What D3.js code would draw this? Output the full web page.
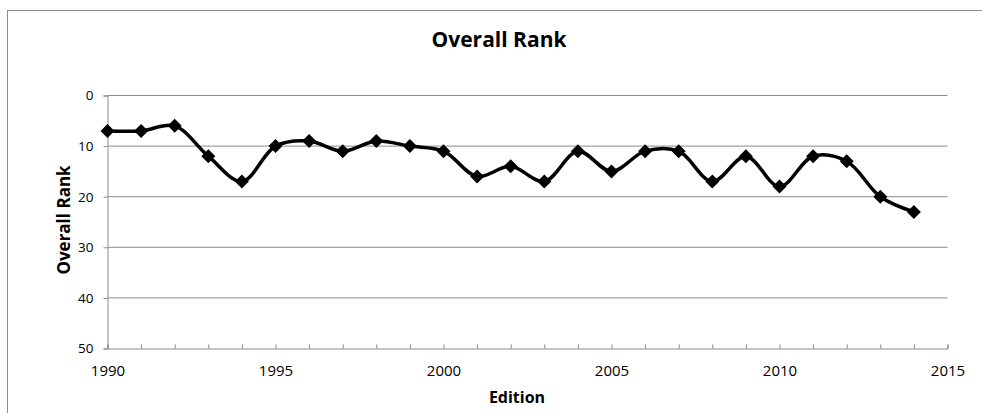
<!DOCTYPE html>
<html>
<head>
<meta charset="utf-8">
<script src="https://cdn.jsdelivr.net/npm/d3@7"></script>
<style>
  html, body { margin: 0; padding: 0; background: #fff; }
  svg { display: block; font-family: "Open Sans", "DejaVu Sans", sans-serif; }
</style>
</head>
<body>
<svg id="chart" width="982" height="413"></svg>
<script>
// Edition years and the overall rank reached in each
const years = [1990, 1991, 1992, 1993, 1994, 1995, 1996, 1997, 1998, 1999, 2000, 2001, 2002,
               2003, 2004, 2005, 2006, 2007, 2008, 2009, 2010, 2011, 2012, 2013, 2014];
const ranks = [7, 7, 6, 12, 17, 10, 9, 11, 9, 10, 11, 16, 14,
               17, 11, 15, 11, 11, 17, 12, 18, 12, 13, 20, 23];
const rankTicks = [0, 10, 20, 30, 40, 50];
const yearTicks = [1990, 1995, 2000, 2005, 2010, 2015];
const yearMinorTicks = d3.range(1990, 2016);

const svg = d3.select("#chart");
const gridColor = "#8c8c8c";

// outer chart frame
svg.append("rect")
  .attr("x", 7.5).attr("y", 10.5)
  .attr("width", 990).attr("height", 420)
  .attr("fill", "#fff").attr("stroke", "#8c8c8c").attr("stroke-width", 1);

const x = d3.scaleLinear().domain([1990, 2015]).range([107.5, 947.5]);
const y = d3.scaleLinear().domain([0, 50]).range([95.5, 348.5]);

// horizontal gridlines
svg.append("g")
  .selectAll("line")
  .data(rankTicks.filter(d => d < 50))
  .join("line")
  .attr("x1", x(1990)).attr("x2", x(2015))
  .attr("y1", d => y(d)).attr("y2", d => y(d))
  .attr("stroke", gridColor).attr("stroke-width", 1);

// y axis (rank, 0 at top)
const yAxis = svg.append("g")
  .attr("transform", `translate(${x(1990)},0)`)
  .call(d3.axisLeft(y).tickValues(rankTicks).tickSize(4).tickPadding(10));
yAxis.select(".domain").attr("stroke", gridColor);
yAxis.selectAll(".tick line").attr("stroke", gridColor);
yAxis.selectAll(".tick text")
  .attr("font-size", 13.5).attr("font-family", "Open Sans").attr("fill", "#000");

// x axis: minor ticks every year pointing inward, labels every five years
const xAxisY = y(50);
const xMinor = svg.append("g")
  .attr("transform", `translate(0,${xAxisY})`)
  .call(d3.axisTop(x).tickValues(yearMinorTicks).tickSize(4).tickFormat(""));
xMinor.select(".domain").attr("stroke", gridColor);
xMinor.selectAll(".tick line").attr("stroke", gridColor);

const xLabels = svg.append("g")
  .attr("transform", `translate(0,${xAxisY})`)
  .call(d3.axisBottom(x).tickValues(yearTicks).tickSize(0).tickPadding(17).tickFormat(d3.format("d")));
xLabels.select(".domain").remove();
xLabels.selectAll(".tick text")
  .attr("font-size", 15).attr("font-family", "Open Sans").attr("fill", "#000");

// smoothed rank line
const pts = years.map((yr, i) => [yr, ranks[i]]);
const line = d3.line()
  .x(d => x(d[0])).y(d => y(d[1]))
  .curve(d3.curveCatmullRom.alpha(0.5));
svg.append("path")
  .datum(pts)
  .attr("d", line)
  .attr("fill", "none")
  .attr("stroke", "#000")
  .attr("stroke-width", 3.5)
  .attr("stroke-linejoin", "round");

// diamond markers
const diamond = d3.symbol().type(d3.symbolSquare).size(98);
svg.append("g")
  .selectAll("path")
  .data(pts)
  .join("path")
  .attr("d", diamond)
  .attr("transform", d => `translate(${x(d[0])},${y(d[1])}) rotate(45)`)
  .attr("fill", "#000");

// titles
svg.append("text")
  .attr("x", 499).attr("y", 47)
  .attr("text-anchor", "middle")
  .attr("font-size", 21).attr("font-weight", "bold")
  .text("Overall Rank");

svg.append("text")
  .attr("x", 517).attr("y", 403)
  .attr("text-anchor", "middle")
  .attr("font-size", 16).attr("font-weight", "bold")
  .text("Edition");

svg.append("text")
  .attr("transform", "translate(70,220) rotate(-90)")
  .attr("text-anchor", "middle")
  .attr("font-size", 17).attr("font-weight", "bold")
  .text("Overall Rank");
</script>
</body>
</html>
